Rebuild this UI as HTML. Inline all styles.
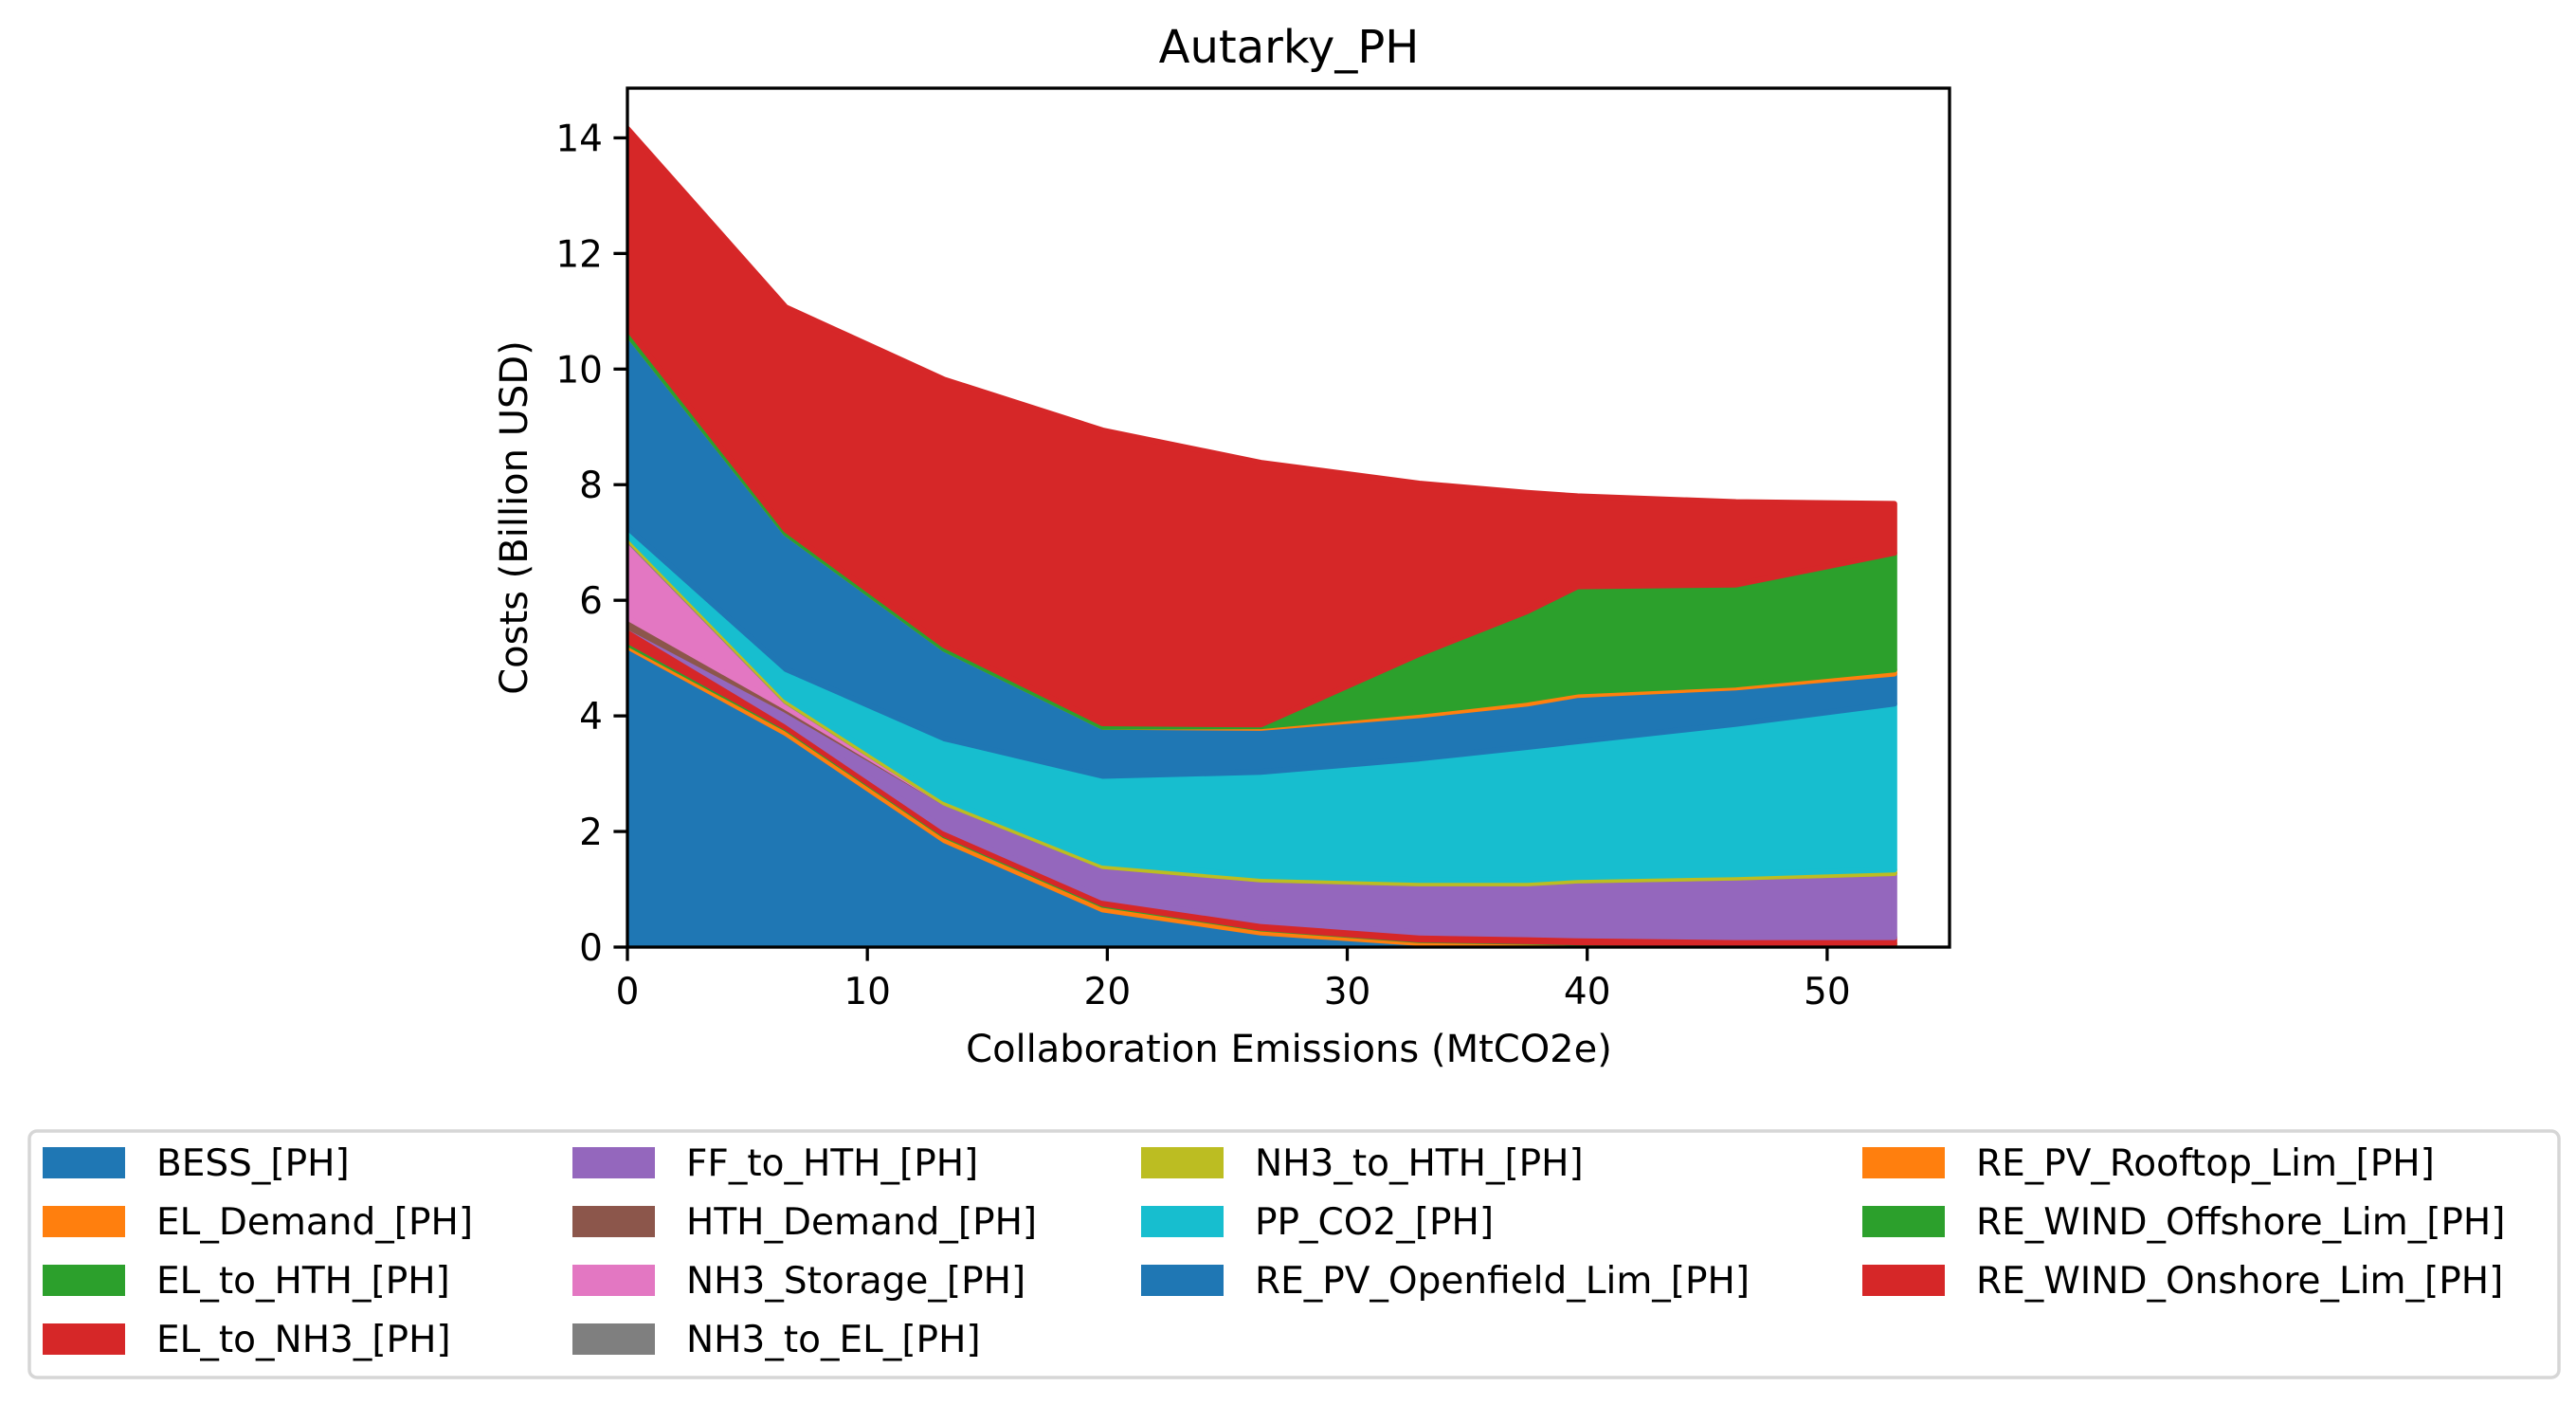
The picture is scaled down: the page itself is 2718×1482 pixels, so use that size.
<!DOCTYPE html>
<html><head><meta charset="utf-8"><style>
html,body{margin:0;padding:0;background:#fff;}
svg{display:block;font-family:"DejaVu Sans","Liberation Sans",sans-serif;}
</style></head><body>
<svg id="chart" width="2718" height="1482" viewBox="0 0 2718 1482" xmlns="http://www.w3.org/2000/svg">
<defs><clipPath id="plotclip"><rect x="662" y="93" width="1395" height="906"/></clipPath></defs>
<text x="1360" y="66" font-size="48" text-anchor="middle">Autarky_PH</text>
<g id="areas" clip-path="url(#plotclip)"></g>
<g id="axes"></g>
<text x="1360" y="1120" font-size="40" text-anchor="middle">Collaboration Emissions (MtCO2e)</text>
<text transform="translate(556,546) rotate(-90)" font-size="40" text-anchor="middle">Costs (Billion USD)</text>
<rect x="31" y="1193" width="2669" height="260" rx="8" fill="#fff" stroke="#d6d6d6" stroke-width="3.5"/>
<g id="legend"></g>
</svg>
<script>
const xVals = [0, 6.6, 13.2, 19.8, 26.4, 33, 37.5, 39.6, 46.2, 52.8];
const seriesNames = ["BESS_[PH]","EL_Demand_[PH]","EL_to_HTH_[PH]","EL_to_NH3_[PH]","FF_to_HTH_[PH]","HTH_Demand_[PH]","NH3_Storage_[PH]","NH3_to_EL_[PH]","NH3_to_HTH_[PH]","PP_CO2_[PH]","RE_PV_Openfield_Lim_[PH]","RE_PV_Rooftop_Lim_[PH]","RE_WIND_Offshore_Lim_[PH]","RE_WIND_Onshore_Lim_[PH]"];
const seriesColors = ["#1f77b4","#ff7f0e","#2ca02c","#d62728","#9467bd","#8c564b","#e377c2","#7f7f7f","#bcbd22","#17becf","#1f77b4","#ff7f0e","#2ca02c","#d62728"];
const bess = [5.2,3.7,1.85,0.65,0.25,0.07,0.05,0.03,0.02,0.02];
const elDemand = [0.05,0.08,0.08,0.08,0.07,0.05,0.04,0.04,0.03,0.03];
const elToHth = [0.05,0.02,0.02,0.02,0.01,0.01,0.01,0.01,0.01,0.01];
const elToNh3 = [0.25,0.1,0.1,0.1,0.12,0.12,0.12,0.12,0.11,0.11];
const ffToHth = [0,0.2,0.45,0.55,0.72,0.85,0.88,0.95,1.03,1.11];
const hthDemand = [0.15,0.05,0,0,0,0,0,0,0,0];
const nh3Storage = [1.35,0.1,0,0,0,0,0,0,0,0];
const nh3ToEl = [0.02,0.01,0,0,0,0,0,0,0,0];
const nh3ToHth = [0.06,0.06,0.06,0.06,0.06,0.06,0.06,0.06,0.06,0.06];
const ppCo2 = [0.13,0.49,1.05,1.5,1.8,2.1,2.3,2.35,2.6,2.87];
const pvOpenfield = [3.35,2.35,1.55,0.85,0.76,0.75,0.75,0.8,0.63,0.52];
const pvRooftop = [0,0,0,0,0.03,0.06,0.07,0.06,0.05,0.07];
const windOffshore = [0.1,0.06,0.06,0.06,0.03,1.0,1.53,1.82,1.73,2.02];
const windOnshore = [3.45,3.85,4.6,5.07,4.53,2.95,2.05,1.56,1.43,0.85];
const xTicks = [0,10,20,30,40,50];
const yTicks = [0,2,4,6,8,10,12,14];

const series = [bess,elDemand,elToHth,elToNh3,ffToHth,hthDemand,nh3Storage,nh3ToEl,nh3ToHth,ppCo2,pvOpenfield,pvRooftop,windOffshore,windOnshore];
const L=662,R=2057,T=93,B=999,XMAX=55.1,YMAX=14.86;
const sx=v=>L+v*(R-L)/XMAX;
const sy=v=>B-v*(B-T)/YMAX;
const NS="http://www.w3.org/2000/svg";
const areas=document.getElementById('areas');
let base=xVals.map(()=>0);
series.forEach((s,i)=>{
  const top=base.map((b,j)=>b+s[j]);
  let d="M"+xVals.map((x,j)=>sx(x).toFixed(1)+","+sy(top[j]).toFixed(1)).join("L");
  for(let j=xVals.length-1;j>=0;j--) d+="L"+sx(xVals[j]).toFixed(1)+","+sy(base[j]).toFixed(1);
  d+="Z";
  const p=document.createElementNS(NS,'path');
  p.setAttribute('d',d);
  p.setAttribute('fill',seriesColors[i]);
  p.setAttribute('stroke',seriesColors[i]);
  p.setAttribute('stroke-width','6');
  p.setAttribute('stroke-linejoin','round');
  
  
  areas.appendChild(p);
  base=top;
});
const axes=document.getElementById('axes');
const frame=document.createElementNS(NS,'rect');
frame.setAttribute('x',L);frame.setAttribute('y',T);frame.setAttribute('width',R-L);frame.setAttribute('height',B-T);
frame.setAttribute('fill','none');frame.setAttribute('stroke','#000');frame.setAttribute('stroke-width','3.3');


axes.appendChild(frame);
xTicks.forEach(v=>{
  const l=document.createElementNS(NS,'line');
  l.setAttribute('x1',sx(v));l.setAttribute('x2',sx(v));l.setAttribute('y1',B);l.setAttribute('y2',B+14.6);
  l.setAttribute('stroke','#000');l.setAttribute('stroke-width','3.3');
  
  
  axes.appendChild(l);
  const t=document.createElementNS(NS,'text');
  t.setAttribute('x',sx(v));t.setAttribute('y',B+60);t.setAttribute('font-size','39');t.setAttribute('text-anchor','middle');
  t.textContent=v;
  
  
  axes.appendChild(t);
});
yTicks.forEach(v=>{
  const l=document.createElementNS(NS,'line');
  l.setAttribute('x1',L-14.6);l.setAttribute('x2',L);l.setAttribute('y1',sy(v));l.setAttribute('y2',sy(v));
  l.setAttribute('stroke','#000');l.setAttribute('stroke-width','3.3');
  
  
  axes.appendChild(l);
  const t=document.createElementNS(NS,'text');
  t.setAttribute('x',L-26);t.setAttribute('y',sy(v)+14);t.setAttribute('font-size','39');t.setAttribute('text-anchor','end');
  t.textContent=v;
  
  
  axes.appendChild(t);
});
const leg=document.getElementById('legend');
const colX=[45,604,1204,1965], rowY=[1226,1288,1350,1412];
const colStart=[0,4,8,11,14];
seriesNames.forEach((n,i)=>{
  let c=0; while(i>=colStart[c+1]) c++;
  const r=i-colStart[c];
  const cx=colX[c], cy=rowY[r];
  const rc=document.createElementNS(NS,'rect');
  rc.setAttribute('x',cx);rc.setAttribute('y',cy-16);rc.setAttribute('width',87);rc.setAttribute('height',33);
  rc.setAttribute('fill',seriesColors[i]);
  
  
  leg.appendChild(rc);
  const t=document.createElementNS(NS,'text');
  t.setAttribute('x',cx+120);t.setAttribute('y',cy+14);t.setAttribute('font-size','39');
  t.textContent=n;
  
  
  leg.appendChild(t);
});
</script>
</body></html>
